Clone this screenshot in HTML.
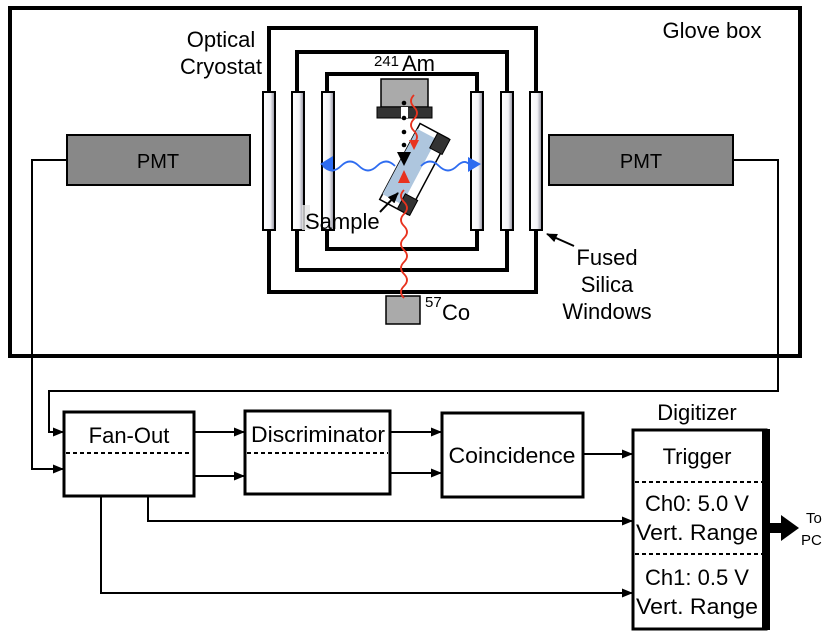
<!DOCTYPE html>
<html><head><style>body{margin:0;background:#fff}svg{display:block}text{font-family:"Liberation Sans",Arial,sans-serif;fill:#000}</style></head><body>
<svg width="831" height="637" viewBox="0 0 831 637" xmlns="http://www.w3.org/2000/svg">
<defs>
<linearGradient id="win" x1="0" x2="1"><stop offset="0" stop-color="#fff"/><stop offset="0.6" stop-color="#f4f4f8"/><stop offset="1" stop-color="#8a8a98"/></linearGradient>
<marker id="ah" markerWidth="11" markerHeight="11" refX="10" refY="5.5" orient="auto" markerUnits="userSpaceOnUse"><path d="M0,1 L11,5.5 L0,10 z" fill="#000"/></marker>
</defs>
<rect x="10" y="8" width="790" height="348" fill="none" stroke="#000" stroke-width="4"/>
<text x="712" y="38" font-size="22" text-anchor="middle">Glove box</text>
<text x="221" y="47" font-size="22" text-anchor="middle">Optical</text>
<text x="221" y="74" font-size="22" text-anchor="middle">Cryostat</text>
<rect x="269" y="28" width="267" height="264" fill="none" stroke="#000" stroke-width="4"/>
<rect x="297" y="52" width="210" height="218" fill="none" stroke="#000" stroke-width="4"/>
<rect x="327" y="74" width="150" height="175" fill="none" stroke="#000" stroke-width="4"/>
<g fill="url(#win)" stroke="#000" stroke-width="2">
<rect x="263" y="92" width="12" height="138"/><rect x="292" y="92" width="12" height="138"/><rect x="322" y="92" width="12" height="138"/>
<rect x="471" y="92" width="12" height="138"/><rect x="501" y="92" width="12" height="138"/><rect x="530" y="92" width="12" height="138"/>
</g>
<rect x="381" y="79" width="47" height="28" fill="#aaa" stroke="#000" stroke-width="1.5"/>
<rect x="377" y="107" width="55" height="11" fill="#333" stroke="#000"/>
<rect x="401" y="107" width="7" height="11" fill="#fff"/>
<text x="374" y="66" font-size="15">241</text><text x="402" y="71" font-size="22">Am</text>
<rect x="386" y="296" width="34" height="28" fill="#aaa" stroke="#000" stroke-width="1.5"/>
<text x="425" y="307" font-size="15">57</text><text x="442" y="320" font-size="22">Co</text>
<g transform="translate(414,169) rotate(28)">
<rect x="-16" y="-43" width="32" height="86" fill="#fff" stroke="#000" stroke-width="1.5"/>
<rect x="-16" y="-37" width="22" height="74" fill="#aec6de"/>
<rect x="4" y="-43" width="14" height="17" fill="#333" stroke="#000"/>
<rect x="4" y="26" width="14" height="17" fill="#333" stroke="#000"/>
</g>
<rect x="302" y="205" width="8" height="25" fill="#e6e6e6" opacity="0.8"/>
<g fill="#000"><circle cx="404" cy="103" r="2.3"/><circle cx="404" cy="118" r="2.3"/><circle cx="404" cy="132" r="2.3"/><circle cx="404" cy="145" r="2.3"/></g>
<path d="M397,152 L411,152 L404,166 z" fill="#000"/>
<path d="M414,95 q-6,6 0,12 q6,6 0,12 q-6,6 0,12 q6,6 0,12" fill="none" stroke="#e8321e" stroke-width="1.8"/>
<path d="M409,140 L419,140 L414,150 z" fill="#e8321e"/>
<path d="M404,298 q-6,-6 0,-12 q6,-6 0,-12 q-6,-6 0,-12 q6,-6 0,-12 q-6,-6 0,-12 q6,-6 0,-12 q-6,-6 0,-12 q6,-6 0,-12 q-6,-6 0,-12" fill="none" stroke="#e8321e" stroke-width="1.8"/>
<path d="M398,183 L410,183 L404,170 z" fill="#e8321e"/>
<path d="M395,166 q-9,-9 -18,0 q-9,9 -18,0 q-9,-9 -18,0 q-9,9 -18,0" fill="none" stroke="#2e6cf0" stroke-width="1.8"/>
<path d="M333,165 L320,164 L333,156 z M333,165 L320,164 L333,172 z" fill="#2e6cf0"/>
<path d="M421,166 q9,-9 18,0 q9,9 18,0 q7,-7 12,-2" fill="none" stroke="#2e6cf0" stroke-width="1.8"/>
<path d="M468,157 L481,164 L468,172 z" fill="#2e6cf0"/>
<text x="305" y="229" font-size="22">Sample</text>
<line x1="380" y1="212" x2="398" y2="193" stroke="#000" stroke-width="2" marker-end="url(#ah)"/>
<line x1="574" y1="246" x2="547" y2="234" stroke="#000" stroke-width="2" marker-end="url(#ah)"/>
<text x="607" y="265" font-size="22" text-anchor="middle">Fused</text>
<text x="607" y="292" font-size="22" text-anchor="middle">Silica</text>
<text x="607" y="319" font-size="22" text-anchor="middle">Windows</text>
<rect x="67" y="135" width="183" height="50" fill="#888" stroke="#000" stroke-width="2"/>
<text x="158" y="168" font-size="20" text-anchor="middle">PMT</text>
<rect x="549" y="135" width="184" height="50" fill="#888" stroke="#000" stroke-width="2"/>
<text x="641" y="168" font-size="20" text-anchor="middle">PMT</text>
<g fill="none" stroke="#000" stroke-width="2">
<path d="M67,160 H32 V469 H63" marker-end="url(#ah)"/>
<path d="M733,160 H778 V391 H49 V432 H63" marker-end="url(#ah)"/>
<path d="M194,432 H244" marker-end="url(#ah)"/>
<path d="M194,476 H244" marker-end="url(#ah)"/>
<path d="M390,432 H441" marker-end="url(#ah)"/>
<path d="M390,473 H441" marker-end="url(#ah)"/>
<path d="M583,454 H632" marker-end="url(#ah)"/>
<path d="M148,496 V521 H632" marker-end="url(#ah)"/>
<path d="M101,496 V593 H632" marker-end="url(#ah)"/>
</g>
<g fill="none" stroke="#000" stroke-width="3">
<rect x="64" y="412" width="130" height="84"/>
<rect x="245" y="411" width="145" height="83"/>
<rect x="442" y="413" width="141" height="84"/>
<rect x="633" y="430" width="133" height="199"/>
</g>
<rect x="762" y="429" width="8" height="201" fill="#000"/>
<g stroke="#000" stroke-width="2" stroke-dasharray="4,3">
<line x1="66" y1="453" x2="192" y2="453"/><line x1="247" y1="453" x2="388" y2="453"/>
<line x1="635" y1="482" x2="762" y2="482"/><line x1="635" y1="554" x2="762" y2="554"/>
</g>
<text x="129" y="443" font-size="22" text-anchor="middle">Fan-Out</text>
<text x="318" y="442" font-size="22" text-anchor="middle" textLength="134" lengthAdjust="spacingAndGlyphs">Discriminator</text>
<text x="512" y="463" font-size="22" text-anchor="middle" textLength="127" lengthAdjust="spacingAndGlyphs">Coincidence</text>
<text x="697" y="420" font-size="22" text-anchor="middle">Digitizer</text>
<text x="697" y="464" font-size="22" text-anchor="middle">Trigger</text>
<text x="697" y="511" font-size="22" text-anchor="middle">Ch0: 5.0 V</text>
<text x="697" y="540" font-size="22" text-anchor="middle" textLength="122" lengthAdjust="spacingAndGlyphs">Vert. Range</text>
<text x="697" y="585" font-size="22" text-anchor="middle">Ch1: 0.5 V</text>
<text x="697" y="614" font-size="22" text-anchor="middle" textLength="122" lengthAdjust="spacingAndGlyphs">Vert. Range</text>
<rect x="770" y="523" width="12" height="10" fill="#000"/>
<path d="M781,515 L799,528 L781,541 z" fill="#000"/>
<text x="806" y="523" font-size="15">To</text>
<text x="801" y="545" font-size="15">PC</text>
</svg>
</body></html>
